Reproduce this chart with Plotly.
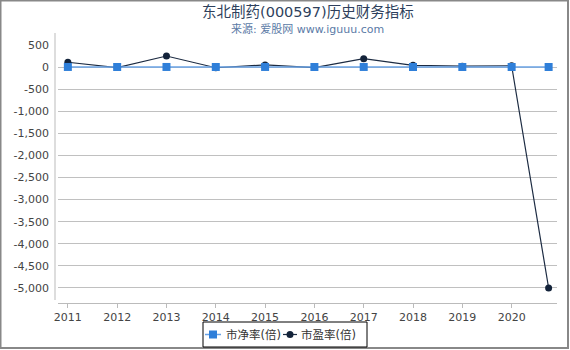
import plotly.graph_objects as go

x_vals = [2011, 2012, 2013, 2014, 2015, 2016, 2017, 2018, 2019, 2020, 2020.75]
pb = [3, 2, 3, 2, 3, 2, 3, 2, 2, 2, 2]
pe = [110, -10, 250, -15, 50, -10, 190, 40, 20, 30, -5000]
series_names = ["市净率(倍)", "市盈率(倍)"]
tick_vals = [2011, 2012, 2013, 2014, 2015, 2016, 2017, 2018, 2019, 2020]
tick_text = [str(v) for v in tick_vals]
y_ticks = list(range(500, -5001, -500))
y_text = [f"{v:,}" for v in y_ticks]

W, H = 570, 350
ML, MR, MT, MB = 58, 13, 45, 47
PW, PH = W - ML - MR, H - MT - MB

C_PB_LINE, C_PB_MK = "#6aa3e6", "#2f7fd9"
C_PE_LINE, C_PE_MK = "#1c2b42", "#13233a"


def px(x):
    return (x - ML) / PW


def py(y):
    return (H - MB - y) / PH


fig = go.Figure()
fig.add_trace(go.Scatter(
    x=x_vals, y=pe, name=series_names[1], mode="lines+markers",
    line=dict(color=C_PE_LINE, width=1.2),
    marker=dict(symbol="circle", size=7, color=C_PE_MK),
))
fig.add_trace(go.Scatter(
    x=x_vals, y=pb, name=series_names[0], mode="lines+markers",
    line=dict(color=C_PB_LINE, width=1.5),
    marker=dict(symbol="square", size=8, color=C_PB_MK),
))

font_family = "DejaVu Sans, Noto Sans CJK SC, sans-serif"

legend_shapes = [
    dict(type="rect", xref="paper", yref="paper", x0=px(203), x1=px(367), y0=py(347), y1=py(322),
         line=dict(color="black", width=1), fillcolor="white"),
    dict(type="line", xref="paper", yref="paper", x0=px(205), x1=px(221), y0=py(334.5), y1=py(334.5),
         line=dict(color=C_PB_LINE, width=1.5)),
    dict(type="rect", xref="paper", yref="paper", x0=px(209), x1=px(217), y0=py(338.5), y1=py(330.5),
         line=dict(width=0), fillcolor=C_PB_MK),
    dict(type="line", xref="paper", yref="paper", x0=px(283), x1=px(297), y0=py(334.5), y1=py(334.5),
         line=dict(color=C_PE_LINE, width=1.2)),
    dict(type="circle", xref="paper", yref="paper", x0=px(286.5), x1=px(293.5), y0=py(338), y1=py(331),
         line=dict(width=0), fillcolor=C_PE_MK),
]
legend_texts = [
    dict(text=series_names[0], x=px(224), y=py(334.5), xref="paper", yref="paper",
         xanchor="left", yanchor="middle", showarrow=False,
         font=dict(size=11.5, color="#333", family=font_family)),
    dict(text=series_names[1], x=px(299), y=py(334.5), xref="paper", yref="paper",
         xanchor="left", yanchor="middle", showarrow=False,
         font=dict(size=11.5, color="#333", family=font_family)),
]

fig.update_layout(
    width=W, height=H,
    margin=dict(l=ML, r=MR, t=MT, b=MB, autoexpand=False),
    paper_bgcolor="white", plot_bgcolor="white",
    font=dict(family=font_family, size=11, color="#444"),
    showlegend=False,
    xaxis=dict(
        range=[2010.8, 2020.92],
        tickmode="array", tickvals=tick_vals, ticktext=tick_text,
        showgrid=False, zeroline=False,
        showline=True, linecolor="#bbbbbb", linewidth=1,
        ticks="outside", ticklen=4, tickcolor="#bbbbbb",
        tickfont=dict(size=11, color="#444"),
    ),
    yaxis=dict(
        range=[-5340, 500],
        tickmode="array", tickvals=y_ticks, ticktext=y_text,
        showgrid=True, gridcolor="#c0c0c0", gridwidth=1,
        zeroline=False,
        showline=False,
        ticks="", tickfont=dict(size=11, color="#444"),
        ticklabelstandoff=8,
    ),
    annotations=[
        dict(text="东北制药(000597)历史财务指标", x=0.5, y=1, xref="paper", yref="paper",
             xanchor="center", yanchor="top", yshift=MT - 2, showarrow=False,
             font=dict(size=14.5, color="#2e3f5c", family=font_family)),
        dict(text="来源: 爱股网 www.iguuu.com", x=0.5, y=1, xref="paper", yref="paper",
             xanchor="center", yanchor="top", yshift=MT - 20, showarrow=False,
             font=dict(size=11, color="#5a7aa6", family=font_family)),
    ] + legend_texts,
    shapes=[
        dict(type="line", xref="paper", yref="paper", x0=-3 / PW, x1=-3 / PW,
             y0=3 / PH, y1=1 + 12 / PH, line=dict(color="#bbbbbb", width=1)),
        dict(type="rect", xref="paper", yref="paper", x0=-(ML - 0.5) / PW, x1=1 + (MR - 2) / PW,
             y0=-(MB - 2) / PH, y1=1 + (MT - 0.5) / PH,
             line=dict(color="#888888", width=2), layer="above"),
    ] + legend_shapes,
)

fig.write_html("out.html")
